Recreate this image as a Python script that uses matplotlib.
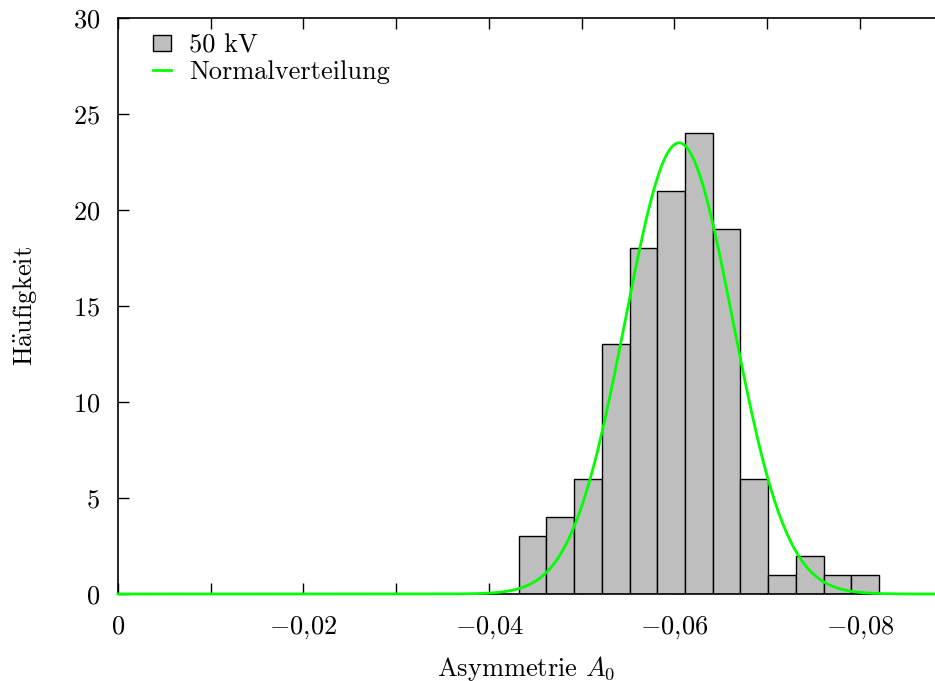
import matplotlib
matplotlib.use('agg')
import matplotlib.pyplot as plt
from matplotlib.patches import Patch
from matplotlib.lines import Line2D
import numpy as np

plt.rcParams['font.family'] = ['cmr10', 'DejaVu Serif']
plt.rcParams['mathtext.fontset'] = 'cm'
plt.rcParams['axes.unicode_minus'] = False

# histogram data (50 kV)
counts = [3, 4, 6, 13, 18, 21, 24, 19, 6, 1, 2, 1, 1]
bin_start = -0.0432   # first bin edge
bin_width = -0.00299  # bins run towards more negative asymmetry

# fitted normal distribution
fit_mu = -0.0605
fit_sigma = 0.0058
fit_amp = 23.5

x_ticks = [0, -0.02, -0.04, -0.06, -0.08]
x_ticklabels = [r'$0$', r'$-0{,}02$', r'$-0{,}04$', r'$-0{,}06$', r'$-0{,}08$']
y_ticks = [0, 5, 10, 15, 20, 25, 30]

FS = 19

fig = plt.figure(figsize=(9.35, 6.81), dpi=100)
ax = fig.add_axes([0.1262, 0.1278, 0.8738, 0.8458])

lefts = [bin_start + i * bin_width for i in range(len(counts))]
ax.bar(lefts, counts, width=bin_width, align='edge', color='#bebebe',
       edgecolor='black', linewidth=1.0, zorder=2)

xs = np.linspace(0, -0.0881, 300)
ys = fit_amp * np.exp(-(xs - fit_mu) ** 2 / (2 * fit_sigma ** 2))
ax.plot(xs, ys, color='#00ff00', linewidth=2, zorder=3, clip_on=False)

ax.set_xlim(0, -0.0881)
ax.set_ylim(0, 30)

ax.set_xticks(x_ticks)
ax.set_xticklabels(x_ticklabels, fontsize=FS)
ax.set_xticks(np.arange(0, -0.0881, -0.01), minor=True)
ax.set_yticks(y_ticks)
ax.set_yticklabels([r'$%d$' % v for v in y_ticks], fontsize=FS)

ax.tick_params(axis='x', which='both', direction='in', top=True, bottom=True,
               length=8, width=1, pad=15)
ax.tick_params(axis='y', direction='in', left=True, right=False,
               length=8, width=1, pad=13)
ax.spines['right'].set_visible(False)
for s in ['left', 'top', 'bottom']:
    ax.spines[s].set_linewidth(1.2)

ax.set_xlabel(r'Asymmetrie $A_0$', fontsize=FS, labelpad=9)
ax.set_ylabel(r'$\mathrm{H\ddot{a}ufigkeit}$', fontsize=FS, labelpad=24)

handles = [Patch(facecolor='#bebebe', edgecolor='black', linewidth=1.0),
           Line2D([], [], color='#00ff00', linewidth=2)]
ax.legend(handles, ['50 kV', 'Normalverteilung'], loc='upper left',
          frameon=False, fontsize=FS, handlelength=0.65, handleheight=0.55,
          borderaxespad=0.2, labelspacing=0.1, handletextpad=0.7,
          bbox_to_anchor=(0.024, 1.0))

fig.savefig('out.png', dpi=100)
